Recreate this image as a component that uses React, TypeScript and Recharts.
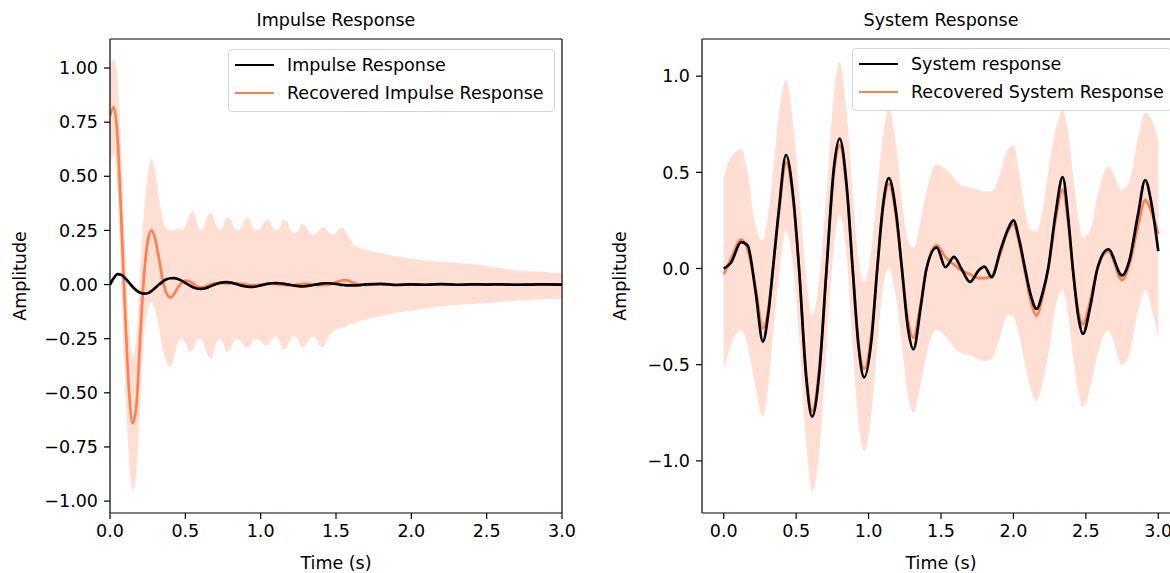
import React from 'react';
import { ComposedChart, Line, Area, XAxis, YAxis, ReferenceLine } from 'recharts';

const FONT = '"DejaVu Sans", Verdana, sans-serif';
const FS = 17.5;
const CORAL = '#ff7f50';

// ---- Impulse response panel ----
const impulseTime = [
  0, 0.025, 0.05, 0.075, 0.1, 0.125, 0.15, 0.175, 0.2, 0.225,
  0.25, 0.275, 0.3, 0.325, 0.35, 0.375, 0.4, 0.425, 0.45, 0.475,
  0.5, 0.525, 0.55, 0.575, 0.6, 0.625, 0.65, 0.675, 0.7, 0.725,
  0.75, 0.775, 0.8, 0.825, 0.85, 0.875, 0.9, 0.925, 0.95, 0.975,
  1.0, 1.025, 1.05, 1.075, 1.1, 1.125, 1.15, 1.175, 1.2, 1.225,
  1.25, 1.275, 1.3, 1.325, 1.35, 1.375, 1.4, 1.425, 1.45, 1.475,
  1.5, 1.525, 1.55, 1.575, 1.6, 1.625, 1.65, 1.675, 1.7,
  1.8, 1.9, 2.0, 2.1, 2.2, 2.3, 2.4, 2.5, 2.6, 2.7, 2.8, 2.9, 3.0,
];
const impulseTrue = [
  0.0, 0.03, 0.048, 0.045, 0.03, 0.01, -0.01, -0.027, -0.038, -0.042,
  -0.04, -0.03, -0.015, 0.0, 0.014, 0.024, 0.029, 0.03, 0.026, 0.018,
  0.008, -0.003, -0.012, -0.018, -0.02, -0.018, -0.013, -0.006, 0.001, 0.007,
  0.01, 0.011, 0.009, 0.005, 0.0, -0.005, -0.009, -0.011, -0.011, -0.008,
  -0.004, 0.0, 0.004, 0.006, 0.007, 0.006, 0.004, 0.001, -0.002, -0.005,
  -0.007, -0.008, -0.007, -0.005, -0.002, 0.001, 0.004, 0.006, 0.006, 0.005,
  0.003, 0.0, -0.002, -0.004, -0.004, -0.004, -0.003, -0.001, 0.001,
  0.003, -0.002, 0.001, -0.001, 0.002, -0.001, 0.001, 0.0, 0.001, -0.001, 0.0, 0.001, 0.0,
];
const impulseRecovered = [
  0.78, 0.82, 0.68, 0.3, -0.12, -0.48, -0.64, -0.56, -0.25, 0.03,
  0.2, 0.25, 0.21, 0.12, 0.02, -0.04, -0.06, -0.045, -0.015, 0.008,
  0.018, 0.015, 0.005, -0.008, -0.014, -0.012, -0.005, 0.002, 0.006, 0.007,
  0.006, 0.005, 0.006, 0.007, 0.006, 0.003, 0.0, -0.003, -0.004, -0.002,
  0.0, 0.002, 0.003, 0.003, 0.002, 0.0, -0.002, -0.003, -0.003, -0.002,
  0.0, 0.002, 0.003, 0.002, 0.0, -0.002, -0.003, -0.002, 0.0, 0.004,
  0.01, 0.016, 0.02, 0.019, 0.012, 0.005, 0.0, -0.002, -0.002,
  0.001, -0.001, 0.001, 0.0, 0.001, -0.001, 0.0, 0.001, 0.0, 0.0, 0.001, 0.0, 0.0,
];
const impulseUpper = [
  1.0, 1.04, 0.95, 0.62, 0.2, -0.18, -0.33, -0.25, 0.06, 0.33,
  0.5, 0.58, 0.52, 0.4, 0.3, 0.26, 0.25, 0.25, 0.26, 0.25,
  0.27, 0.32, 0.34, 0.29, 0.25, 0.27, 0.32, 0.33, 0.28, 0.25,
  0.27, 0.31, 0.3, 0.26, 0.25, 0.27, 0.31, 0.3, 0.26, 0.25,
  0.26, 0.29, 0.3, 0.27, 0.25, 0.26, 0.3, 0.29, 0.25, 0.24,
  0.25, 0.28, 0.27, 0.24, 0.23, 0.24, 0.26, 0.265, 0.24, 0.23,
  0.24, 0.26, 0.26, 0.23, 0.2, 0.18, 0.17, 0.165, 0.16,
  0.145, 0.13, 0.12, 0.11, 0.105, 0.1, 0.095, 0.085, 0.075, 0.065, 0.06, 0.057, 0.053,
];
const impulseLower = [
  0.55, 0.6, 0.42, 0.0, -0.45, -0.8, -0.95, -0.88, -0.55, -0.25,
  -0.12, -0.08, -0.12, -0.2, -0.3, -0.36, -0.38, -0.34, -0.27, -0.25,
  -0.27, -0.31, -0.3, -0.26, -0.25, -0.28, -0.33, -0.34, -0.28, -0.25,
  -0.27, -0.31, -0.3, -0.26, -0.25, -0.27, -0.29, -0.29, -0.26, -0.25,
  -0.26, -0.28, -0.28, -0.25, -0.24, -0.26, -0.3, -0.29, -0.25, -0.24,
  -0.26, -0.29, -0.28, -0.25, -0.24, -0.26, -0.29, -0.28, -0.24, -0.22,
  -0.21, -0.2, -0.2, -0.19, -0.18, -0.18, -0.17, -0.165, -0.16,
  -0.145, -0.13, -0.12, -0.11, -0.1, -0.095, -0.09, -0.085, -0.08, -0.075, -0.07, -0.068, -0.067,
];

// ---- System response panel ----
const systemTime = [
  0, 0.05, 0.12, 0.165, 0.22, 0.27, 0.31, 0.34, 0.38, 0.43,
  0.48, 0.52, 0.57, 0.61, 0.66, 0.71, 0.76, 0.8, 0.85, 0.89,
  0.93, 0.97, 1.02, 1.06, 1.1, 1.14, 1.19, 1.23, 1.27, 1.31,
  1.36, 1.4, 1.47, 1.53, 1.59, 1.64, 1.7, 1.76, 1.8, 1.85,
  1.91, 1.96, 2.0, 2.04, 2.08, 2.12, 2.16, 2.2, 2.24, 2.29,
  2.34, 2.38, 2.41, 2.45, 2.48, 2.53, 2.58, 2.655, 2.75, 2.8,
  2.86, 2.91, 2.95, 3.0,
];
const systemTrue = [
  0.0, 0.03, 0.137, 0.12, -0.12, -0.38, -0.22, 0.0, 0.3, 0.59,
  0.37, 0.0, -0.57, -0.77, -0.54, 0.0, 0.52, 0.675, 0.42, 0.0,
  -0.4, -0.566, -0.37, 0.0, 0.33, 0.47, 0.29, 0.0, -0.3, -0.42,
  -0.2, 0.0, 0.11, 0.007, 0.06, 0.0, -0.07, -0.01, 0.01, -0.045,
  0.094, 0.2, 0.25, 0.15, 0.0, -0.14, -0.21, -0.13, 0.0, 0.28,
  0.475, 0.25, 0.0, -0.26, -0.34, -0.2, 0.0, 0.1, -0.036, 0.04,
  0.28, 0.46, 0.35, 0.09,
];
const systemRecovered = [
  -0.03, 0.05, 0.15, 0.1, -0.1, -0.31, -0.2, 0.0, 0.28, 0.55,
  0.35, 0.0, -0.55, -0.74, -0.52, 0.0, 0.49, 0.64, 0.4, 0.0,
  -0.38, -0.52, -0.34, 0.0, 0.31, 0.44, 0.27, 0.0, -0.26, -0.36,
  -0.18, 0.0, 0.12, 0.06, 0.02, -0.01, -0.03, -0.05, -0.05, -0.04,
  0.08, 0.19, 0.23, 0.13, -0.02, -0.17, -0.245, -0.15, 0.0, 0.25,
  0.41, 0.22, 0.0, -0.23, -0.29, -0.17, 0.0, 0.09, -0.06, 0.02,
  0.22, 0.355, 0.3, 0.18,
];
const systemUpper = [
  0.475, 0.58, 0.62, 0.5, 0.22, 0.146, 0.3, 0.5, 0.8, 0.98,
  0.75, 0.4, -0.05, -0.25, -0.05, 0.4, 0.9, 1.075, 0.8, 0.4,
  0.05, -0.07, 0.1, 0.4, 0.7, 0.83, 0.65, 0.35, 0.15, 0.11,
  0.25, 0.4, 0.54, 0.52, 0.47, 0.43, 0.42, 0.41, 0.4, 0.4,
  0.5, 0.62, 0.64, 0.5, 0.3, 0.2, 0.19, 0.3, 0.5, 0.72,
  0.82, 0.7, 0.5, 0.25, 0.16, 0.2, 0.38, 0.53, 0.41, 0.45,
  0.68, 0.81, 0.78, 0.67,
];
const systemLower = [
  -0.53, -0.4, -0.32, -0.4, -0.62, -0.77, -0.6, -0.35, -0.05, 0.2,
  0.0, -0.35, -0.9, -1.16, -0.95, -0.4, 0.1, 0.28, 0.05, -0.4,
  -0.8, -0.95, -0.75, -0.4, -0.1, 0.0, -0.15, -0.4, -0.65, -0.75,
  -0.6, -0.45, -0.32, -0.35, -0.41, -0.44, -0.45, -0.47, -0.48, -0.47,
  -0.35, -0.24, -0.25, -0.35, -0.5, -0.63, -0.69, -0.6, -0.45, -0.2,
  -0.11, -0.25, -0.45, -0.65, -0.72, -0.62, -0.45, -0.32, -0.5, -0.45,
  -0.22, -0.11, -0.2, -0.36,
];

const timeTicks = [0, 0.5, 1.0, 1.5, 2.0, 2.5, 3.0];
const impulseTicks = [-1.0, -0.75, -0.5, -0.25, 0, 0.25, 0.5, 0.75, 1.0];
const systemTicks = [-1.0, -0.5, 0, 0.5, 1.0];

const buildRows = (t: number[], truth: number[], rec: number[], lo: number[], hi: number[]) =>
  t.map((x, i) => ({ t: x, truth: truth[i], rec: rec[i], band: [lo[i], hi[i]] }));

const impulseData = buildRows(impulseTime, impulseTrue, impulseRecovered, impulseLower, impulseUpper);
const systemData = buildRows(systemTime, systemTrue, systemRecovered, systemLower, systemUpper);

const fmt = (digits: number) => (v: number) =>
  (v < 0 ? '\u2212' : '') + Math.abs(v).toFixed(digits);

const tickStyle = { fill: '#000', fontSize: FS, fontFamily: FONT };
const lineStyle = { stroke: '#000', strokeWidth: 1.2 };

interface PanelProps {
  data: any[];
  left: number;
  xDomain: [number, number];
  yDomain: [number, number];
  yTicks: number[];
  yDigits: number;
  yAxisWidth: number;
  rightMargin: number;
  labelDx: number;
}

function Panel({ data, left, xDomain, yDomain, yTicks, yDigits, yAxisWidth, rightMargin, labelDx }: PanelProps) {
  return (
    <div style={{ position: 'absolute', left, top: 0 }}>
      <ComposedChart
        width={600}
        height={573}
        data={data}
        margin={{ top: 39, right: rightMargin, bottom: 0, left: 0 }}
      >
        <XAxis
          xAxisId="b"
          type="number"
          dataKey="t"
          domain={xDomain}
          allowDataOverflow
          ticks={timeTicks}
          tickFormatter={fmt(1)}
          tick={tickStyle}
          tickSize={6}
          tickMargin={6}
          axisLine={lineStyle}
          tickLine={lineStyle}
          height={60}
          label={{ value: 'Time (s)', position: 'insideBottom', offset: 4, fill: '#000', fontSize: FS, fontFamily: FONT }}
        />
        <YAxis
          yAxisId="l"
          type="number"
          domain={yDomain}
          allowDataOverflow
          ticks={yTicks}
          tickFormatter={fmt(yDigits)}
          tick={tickStyle}
          tickSize={6}
          tickMargin={6}
          axisLine={lineStyle}
          tickLine={lineStyle}
          width={yAxisWidth}
          label={{ value: 'Amplitude', angle: -90, position: 'center', dx: labelDx, fill: '#000', fontSize: FS, fontFamily: FONT }}
        />
        <Area
          xAxisId="b"
          yAxisId="l"
          dataKey="band"
          type="monotone"
          fill={CORAL}
          fillOpacity={0.25}
          stroke="none"
          isAnimationActive={false}
        />
        <Line
          xAxisId="b"
          yAxisId="l"
          dataKey="rec"
          type="monotone"
          stroke={CORAL}
          strokeWidth={2.7}
          dot={false}
          isAnimationActive={false}
        />
        <Line
          xAxisId="b"
          yAxisId="l"
          dataKey="truth"
          type="monotone"
          stroke="#000"
          strokeWidth={2.7}
          dot={false}
          isAnimationActive={false}
        />
        {/* top and right spines of the axes frame */}
        <ReferenceLine xAxisId="b" yAxisId="l" y={yDomain[1]} stroke="#000" strokeWidth={1.2} ifOverflow="visible" />
        <ReferenceLine xAxisId="b" yAxisId="l" x={xDomain[1]} stroke="#000" strokeWidth={1.2} ifOverflow="visible" />
      </ComposedChart>
    </div>
  );
}

function LegendBox({ left, top, width, labels }: { left: number; top: number; width: number; labels: string[] }) {
  const colors = ['#000', CORAL];
  return (
    <div
      style={{
        position: 'absolute',
        left,
        top,
        width,
        height: 63,
        boxSizing: 'border-box',
        border: '1px solid #d5d5d5',
        borderRadius: 4,
        background: 'rgba(255,255,255,0.8)',
      }}
    >
      {labels.map((lab, i) => (
        <div key={lab} style={{ position: 'absolute', left: 6, top: 5 + i * 28, height: 20, display: 'flex', alignItems: 'center' }}>
          <div style={{ width: 39, height: 2.7, background: colors[i] }} />
          <span style={{ marginLeft: 13, fontSize: FS, lineHeight: '20px', color: '#000', whiteSpace: 'nowrap' }}>{lab}</span>
        </div>
      ))}
    </div>
  );
}

const titleStyle: React.CSSProperties = {
  position: 'absolute',
  top: 10,
  fontSize: FS,
  lineHeight: '20px',
  textAlign: 'center',
  color: '#000',
};

export default function App() {
  return (
    <div
      style={{
        position: 'absolute',
        left: 0,
        top: 0,
        width: 1170,
        height: 573,
        overflow: 'hidden',
        background: '#fff',
        fontFamily: FONT,
      }}
    >
      <Panel
        data={impulseData}
        left={0}
        xDomain={[0, 3]}
        yDomain={[-1.055, 1.134]}
        yTicks={impulseTicks}
        yDigits={2}
        yAxisWidth={110}
        rightMargin={38}
        labelDx={-35}
      />
      <Panel
        data={systemData}
        left={600}
        xDomain={[-0.15, 3.15]}
        yDomain={[-1.271, 1.193]}
        yTicks={systemTicks}
        yDigits={1}
        yAxisWidth={102}
        rightMargin={20}
        labelDx={-31}
      />
      <div style={{ ...titleStyle, left: 110, width: 452 }}>Impulse Response</div>
      <div style={{ ...titleStyle, left: 702, width: 478 }}>System Response</div>
      <LegendBox left={228} top={49} width={327} labels={['Impulse Response', 'Recovered Impulse Response']} />
      <LegendBox left={852} top={48} width={320} labels={['System response', 'Recovered System Response']} />
    </div>
  );
}
